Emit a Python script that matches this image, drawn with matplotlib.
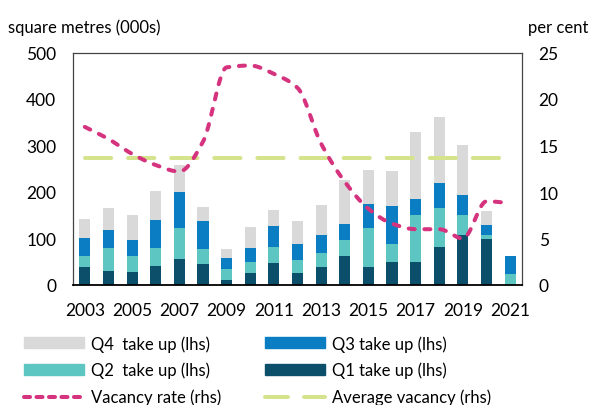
import numpy as np
import matplotlib
matplotlib.use("Agg")
import matplotlib.pyplot as plt
from matplotlib.patches import Patch
from matplotlib.lines import Line2D

plt.rcParams['font.family'] = ['Lato', 'DejaVu Sans']

years = list(range(2003, 2022))
q1 = [39, 30, 28, 41, 56, 45, 11, 25, 47, 25, 39, 62, 39, 50, 50, 81, 107, 98, 0]
q2 = [23, 49, 34, 38, 66, 32, 23, 24, 35, 29, 29, 35, 83, 38, 101, 84, 44, 10, 23]
q3 = [40, 40, 35, 60, 79, 60, 25, 30, 45, 34, 39, 34, 52, 82, 34, 54, 42, 22, 39]
q4 = [40, 46, 54, 63, 58, 30, 18, 46, 35, 49, 64, 94, 73, 75, 145, 143, 109, 30, 0]
vacancy = [17.0, 15.7, 14.1, 12.9, 12.2, 15.4, 23.4, 23.6, 22.7, 21.2, 15.2, 11.1,
           8.2, 6.6, 6.0, 6.0, 5.0, 9.0, 8.8]
avg_vacancy = 13.7
xtick_labels = ['2003', '2005', '2007', '2009', '2011', '2013', '2015', '2017', '2019', '2021']

c_q4 = '#d9d9d9'
c_q3 = '#0a7dc3'
c_q2 = '#5ec6c2'
c_q1 = '#0b4f6b'
c_vac = '#d6337f'
c_avg = '#d5e38c'


def pchip_curve(x, y, n=30):
    """Monotone cubic (Fritsch-Carlson) rendering of a line through the points."""
    x = np.asarray(x, float); y = np.asarray(y, float)
    h = np.diff(x); d = np.diff(y) / h
    m = np.zeros_like(y)
    for k in range(1, len(y) - 1):
        if d[k-1] * d[k] <= 0:
            m[k] = 0.0
        else:
            w1 = 2*h[k] + h[k-1]; w2 = h[k] + 2*h[k-1]
            m[k] = (w1 + w2) / (w1/d[k-1] + w2/d[k])
    m[0] = d[0]; m[-1] = d[-1]
    xs, ys = [], []
    t = np.linspace(0, 1, n, endpoint=False)
    for k in range(len(x) - 1):
        h00 = 2*t**3 - 3*t**2 + 1; h10 = t**3 - 2*t**2 + t
        h01 = -2*t**3 + 3*t**2; h11 = t**3 - t**2
        xs.extend(x[k] + t*h[k])
        ys.extend(h00*y[k] + h10*h[k]*m[k] + h01*y[k+1] + h11*h[k]*m[k+1])
    xs.append(x[-1]); ys.append(y[-1])
    return np.array(xs), np.array(ys)


fig = plt.figure(figsize=(5.97, 4.06), dpi=100)
ax = fig.add_axes([73/597, 1-286/406, (522-73)/597, (286-53.5)/406])

x = np.array(years)
w = 0.47
b1 = np.array(q1); b2 = b1 + np.array(q2); b3 = b2 + np.array(q3)
ax.bar(x, q1, w, color=c_q1, zorder=2)
ax.bar(x, q2, w, bottom=b1, color=c_q2, zorder=2)
ax.bar(x, q3, w, bottom=b2, color=c_q3, zorder=2)
ax.bar(x, q4, w, bottom=b3, color=c_q4, zorder=2)

ax.set_xlim(2002.5, 2021.5)
ax.set_ylim(0, 500)
ax.set_yticks([0, 100, 200, 300, 400, 500])
ax.set_xticks(list(range(2003, 2022, 2)))
ax.set_xticklabels(xtick_labels)
ax.tick_params(length=0, labelsize=12.5)
ax.tick_params(axis='x', pad=12)
ax.tick_params(axis='y', pad=12)
for s in ['left', 'top', 'right']:
    ax.spines[s].set_color('#444444')
    ax.spines[s].set_linewidth(0.9)
ax.spines['bottom'].set_color('black')
ax.spines['bottom'].set_linewidth(1.3)

ax2 = ax.twinx()
ax2.set_ylim(0, 25)
ax2.set_yticks([0, 5, 10, 15, 20, 25])
ax2.tick_params(length=0, labelsize=12.5, pad=12)
for s in ax2.spines.values():
    s.set_visible(False)

sx, sy = pchip_curve(years, vacancy)
ax2.plot(sx, sy, color=c_vac, lw=2.9, dashes=(1.5, 2.4), dash_capstyle='round', zorder=4)
ax2.plot([years[0], years[-1]], [avg_vacancy, avg_vacancy], color=c_avg, lw=2.9,
         dashes=(6.5, 4.2), dash_capstyle='round', zorder=3)
ax.set_zorder(1); ax2.set_zorder(2)
ax.patch.set_visible(False)

fig.text(8/597, 1-28/406, 'square metres (000s)', fontsize=12, va='center', ha='left')
fig.text(528/597, 1-28/406, 'per cent', fontsize=12, va='center', ha='left')

handles = [
    Patch(color=c_q4), Patch(color=c_q2),
    Line2D([], [], color=c_vac, lw=2.9, dashes=(1.5, 1.6), dash_capstyle='round'),
    Patch(color=c_q3), Patch(color=c_q1),
    Line2D([], [], color=c_avg, lw=2.9, dashes=(5.7, 4.0), dash_capstyle='round'),
]
labels = ['Q4  take up (lhs)', 'Q2  take up (lhs)', 'Vacancy rate (rhs)',
          'Q3 take up (lhs)', 'Q1 take up (lhs)', 'Average vacancy (rhs)']
fig.legend(handles, labels, ncol=2, loc='upper left', bbox_to_anchor=(9/597, 1-321/406),
           frameon=False, fontsize=12, handlelength=3.6, handleheight=0.6,
           handletextpad=0.4, columnspacing=2.65, labelspacing=0.62)

fig.savefig('out.png', dpi=100)
